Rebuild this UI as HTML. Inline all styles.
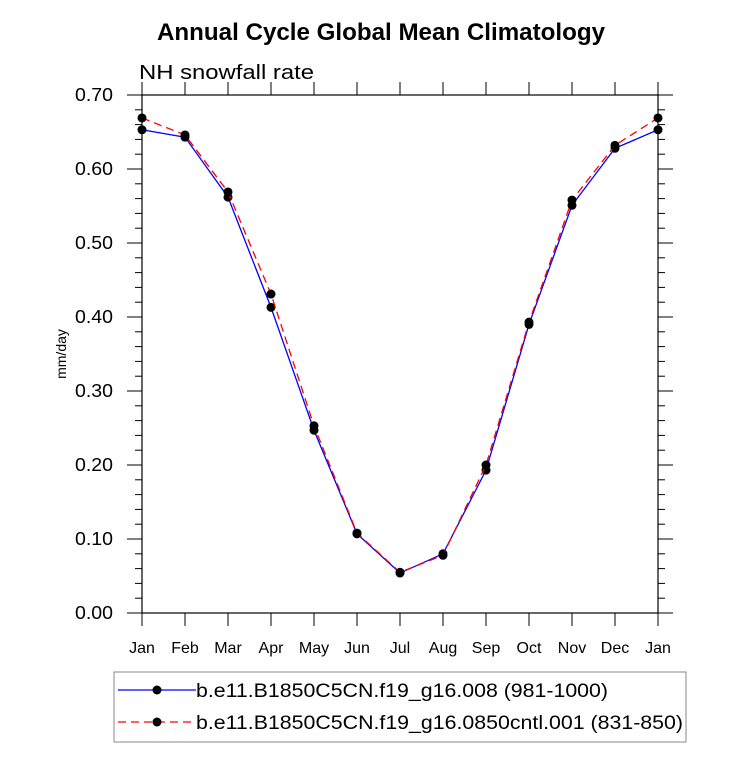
<!DOCTYPE html>
<html><head><meta charset="utf-8"><style>
body{margin:0;background:#fff;}
svg{display:block;font-family:"Liberation Sans",Arial,sans-serif;}
</style></head><body>
<svg width="733" height="763" viewBox="0 0 733 763">
<text x="157" y="40" textLength="448" lengthAdjust="spacingAndGlyphs" font-size="24" font-weight="bold">Annual Cycle Global Mean Climatology</text>
<text x="139" y="79" textLength="175" lengthAdjust="spacingAndGlyphs" font-size="20">NH snowfall rate</text>
<text transform="translate(66,354) rotate(-90)" text-anchor="middle" font-size="14">mm/day</text>
<g id="axes"></g>
<g id="series"></g>
<rect x="114" y="672" width="572" height="70" fill="none" stroke="#888" stroke-width="1"/>
<g>
<line x1="118" y1="690" x2="196" y2="690" stroke="#0000ff" stroke-width="1.3"/>
<circle cx="157" cy="690" r="4.5"/>
<text x="196" y="697" textLength="412" lengthAdjust="spacingAndGlyphs" font-size="19">b.e11.B1850C5CN.f19_g16.008 (981-1000)</text>
</g>
<g>
<line x1="118" y1="722" x2="196" y2="722" stroke="#ff0000" stroke-width="1.3" stroke-dasharray="8,5"/>
<circle cx="157" cy="722" r="4.5"/>
<text x="196" y="729" textLength="487" lengthAdjust="spacingAndGlyphs" font-size="19">b.e11.B1850C5CN.f19_g16.0850cntl.001 (831-850)</text>
</g>
</svg>
<script>
const months=["Jan","Feb","Mar","Apr","May","Jun","Jul","Aug","Sep","Oct","Nov","Dec","Jan"];
const blueVals=[0.653,0.643,0.562,0.413,0.247,0.107,0.054,0.080,0.193,0.390,0.551,0.628,0.653];
const redVals=[0.669,0.646,0.569,0.431,0.253,0.108,0.055,0.078,0.200,0.393,0.558,0.632,0.669];
const yTicks=[0,0.1,0.2,0.3,0.4,0.5,0.6,0.7];
const yLabels=["0.00","0.10","0.20","0.30","0.40","0.50","0.60","0.70"];
const L=142,R=658,T=95,B=613;
const NS="http://www.w3.org/2000/svg";
function xs(i){return L+(R-L)*i/12;}
function ys(v){return B-(B-T)*v/0.7;}
function mk(tag,attrs,parent){const e=document.createElementNS(NS,tag);for(const k in attrs)e.setAttribute(k,attrs[k]);parent.appendChild(e);return e;}
const ax=document.getElementById('axes');
const frame=mk('rect',{x:L,y:T,width:R-L,height:B-T,fill:'none',stroke:'#000','stroke-width':1.2},ax);


yTicks.forEach((v,i)=>{
  const y=ys(v);
  mk('line',{x1:L,y1:y,x2:L-15,y2:y,stroke:'#000'},ax);
  mk('line',{x1:R,y1:y,x2:R+15,y2:y,stroke:'#000'},ax);
  const t=mk('text',{x:L-29,y:y+6,'text-anchor':'end','font-size':18,textLength:38,lengthAdjust:'spacingAndGlyphs'},ax);
  t.textContent=yLabels[i];
  
  
  if(i<yTicks.length-1){for(let k=1;k<5;k++){const yy=ys(v+0.02*k);
    mk('line',{x1:L,y1:yy,x2:L-7,y2:yy,stroke:'#000'},ax);
    mk('line',{x1:R,y1:yy,x2:R+7,y2:yy,stroke:'#000'},ax);}}
});
months.forEach((m,i)=>{
  const x=xs(i);
  mk('line',{x1:x,y1:B,x2:x,y2:B+13,stroke:'#000'},ax);
  mk('line',{x1:x,y1:T,x2:x,y2:T-13,stroke:'#000'},ax);
  const t=mk('text',{x:x,y:B+40,'text-anchor':'middle','font-size':16},ax);
  t.textContent=m;
  
  
});
const sg=document.getElementById('series');
function series(vals,color,dash,name){
  const p=mk('polyline',{points:vals.map((v,i)=>xs(i)+','+ys(v)).join(' '),fill:'none',stroke:color,'stroke-width':1.3,'stroke-dasharray':dash},sg);
  
  
  vals.forEach((v,i)=>{const c=mk('circle',{cx:xs(i),cy:ys(v),r:4.5,fill:'#000'},sg);
    
    });
}
series(blueVals,'#0000ff','none','blue-series');
series(redVals,'#ff0000','8,5','red-series');
</script>
</body></html>
